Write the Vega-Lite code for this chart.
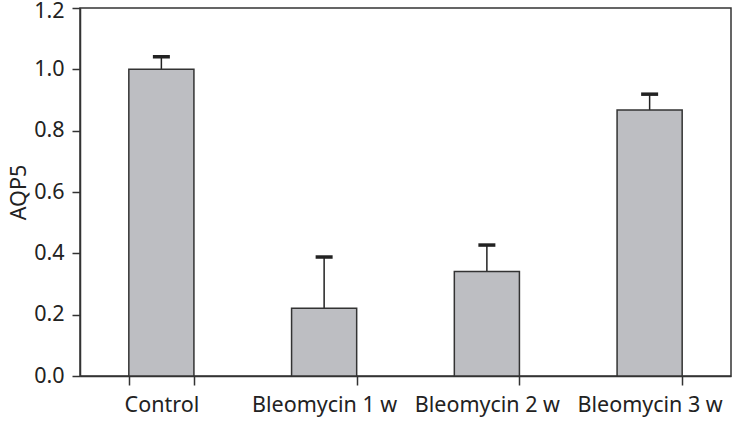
{
  "$schema": "https://vega.github.io/schema/vega-lite/v6.json",
  "width": 651,
  "height": 368,
  "autosize": {"type": "none"},
  "padding": {"left": 80, "top": 8, "right": 1, "bottom": 46},
  "config": {
    "view": {"stroke": "#333", "strokeWidth": 1.5},
    "axis": {
      "labelFont": "Noto Sans",
      "titleFont": "Noto Sans",
      "labelFontSize": 21.5,
      "titleFontSize": 21.5,
      "labelColor": "#222",
      "titleColor": "#222",
      "domainColor": "#333",
      "tickColor": "#333",
      "domainWidth": 1.5,
      "tickWidth": 1.5,
      "grid": false,
      "titleFontWeight": "normal"
    }
  },
  "data": {
    "values": [
      {"group": "Control", "value": 1.0, "upper": 1.041},
      {"group": "Bleomycin 1 w", "value": 0.221, "upper": 0.388},
      {"group": "Bleomycin 2 w", "value": 0.341, "upper": 0.427},
      {"group": "Bleomycin 3 w", "value": 0.867, "upper": 0.919}
    ]
  },
  "encoding": {
    "x": {
      "field": "group",
      "type": "nominal",
      "sort": null,
      "scale": {"paddingInner": 0.6, "paddingOuter": 0.3},
      "axis": {"title": null, "labelAngle": 0, "tickBand": "extent", "tickSize": 9, "labelPadding": 9}
    }
  },
  "layer": [
    {
      "mark": {"type": "rule", "stroke": "#222", "strokeWidth": 1.5},
      "encoding": {
        "y": {"field": "value", "type": "quantitative"},
        "y2": {"field": "upper"}
      }
    },
    {
      "mark": {"type": "tick", "color": "#222", "size": 17, "thickness": 3.5, "opacity": 1},
      "encoding": {
        "y": {"field": "upper", "type": "quantitative"}
      }
    },
    {
      "mark": {"type": "bar", "fill": "#bdbec2", "stroke": "#333", "strokeWidth": 1.5},
      "encoding": {
        "y": {
          "field": "value",
          "type": "quantitative",
          "scale": {"domain": [0, 1.2], "nice": false},
          "axis": {
            "title": "AQP5",
            "values": [0, 0.2, 0.4, 0.6, 0.8, 1.0, 1.2],
            "format": ".1f",
            "tickSize": 8,
            "labelPadding": 8,
            "titlePadding": 3,
            "labelOffset": {"condition": {"test": "datum.value >= 1.19", "value": 3}, "value": 0}
          }
        }
      }
    }
  ]
}
